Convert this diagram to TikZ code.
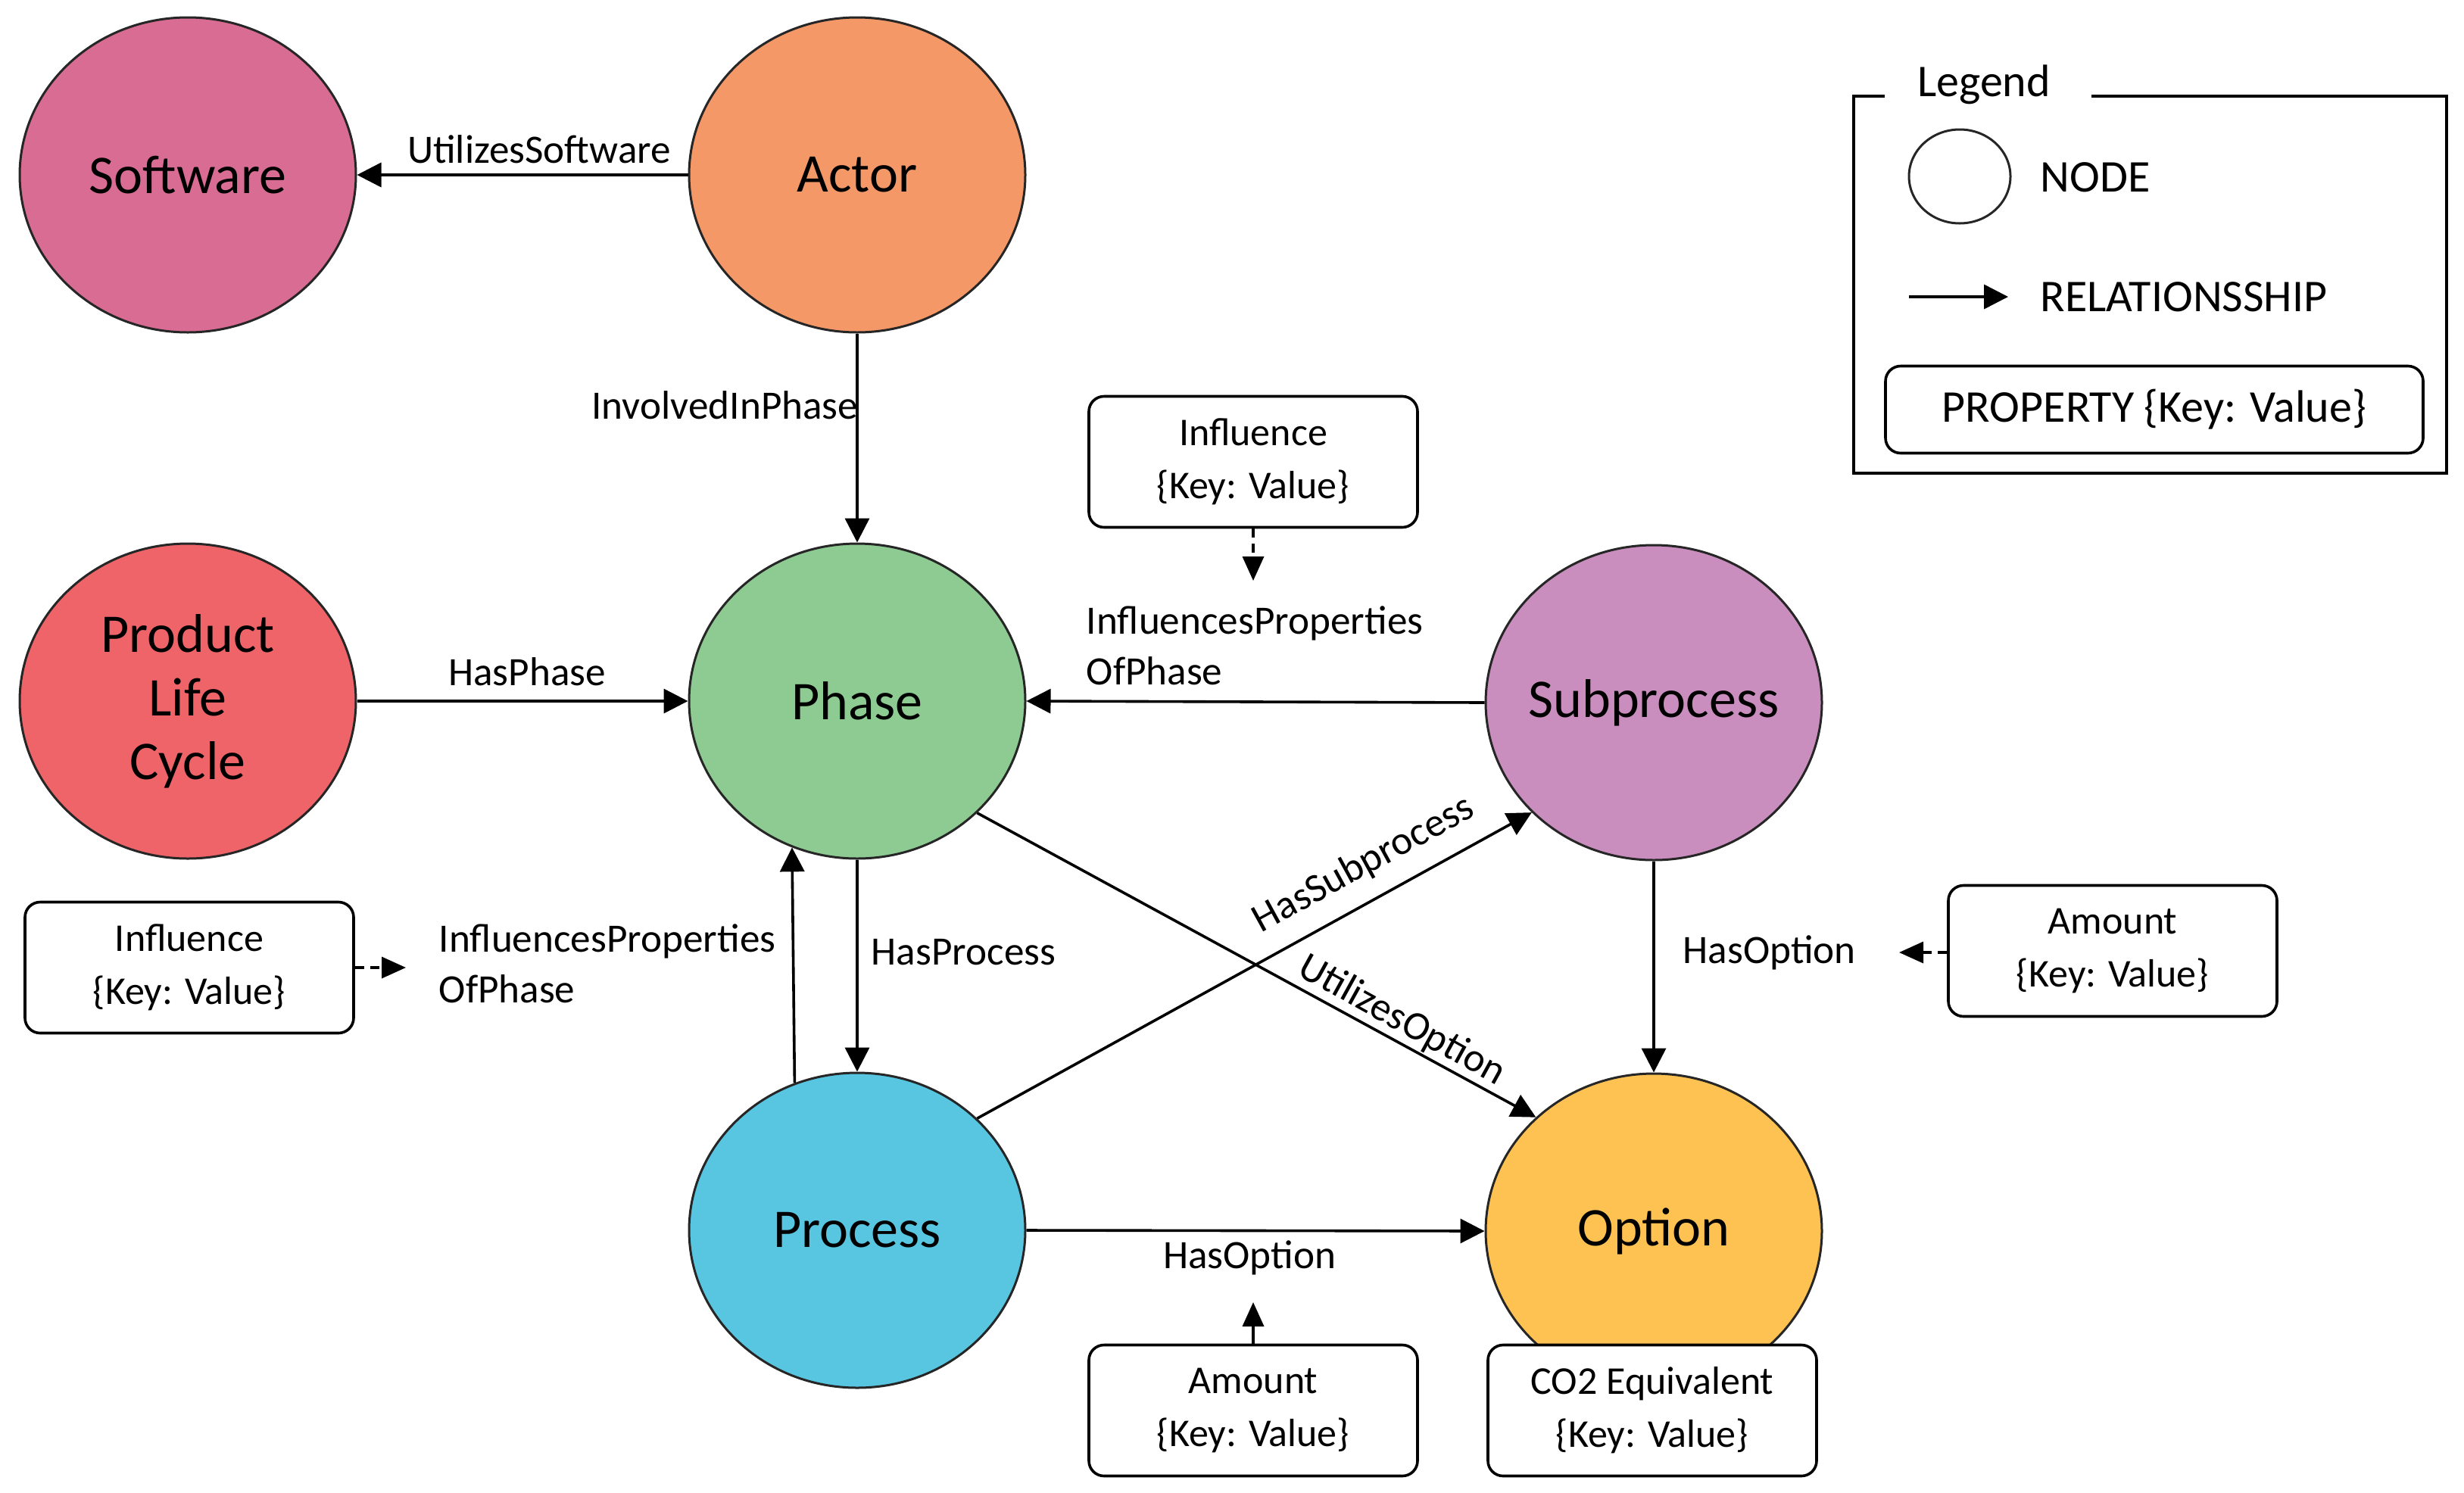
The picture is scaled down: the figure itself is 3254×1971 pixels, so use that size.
\documentclass[tikz,border=0pt]{standalone}
\usepackage{fontspec}
\setmainfont{Carlito}
\usetikzlibrary{shapes.geometric,arrows.meta}
\definecolor{cSoft}{RGB}{216,108,146}
\definecolor{cActor}{RGB}{245,152,104}
\definecolor{cPLC}{RGB}{238,100,104}
\definecolor{cPhase}{RGB}{141,203,146}
\definecolor{cSub}{RGB}{201,142,190}
\definecolor{cProc}{RGB}{88,197,225}
\definecolor{cOpt}{RGB}{254,194,82}
\begin{document}
\begin{tikzpicture}[x=0.25pt,y=-0.25pt,
  ent/.style={ellipse,draw=black!85,line width=0.75pt,minimum width=111pt,minimum height=104pt,inner sep=-20pt,font=\fontsize{18}{21}\selectfont,align=center},
  rel/.style={line width=0.9pt,-{Triangle[length=8pt,width=8pt]}},
  lbl/.style={font=\fontsize{13.3}{16.75}\selectfont,inner sep=0pt,align=left},
  prop/.style={draw,rounded corners=5pt,line width=0.9pt,fill=white,font=\fontsize{13}{17.5}\selectfont,align=center,inner sep=0pt,minimum width=108.5pt,minimum height=43.25pt},
  inf/.style={line width=0.9pt,dash pattern=on 3pt off 2pt,-{Triangle[length=8pt,width=7pt]}},
  lgd/.style={font=\fontsize{15}{18}\selectfont,inner sep=0pt}]
\useasboundingbox (0,0) rectangle (3254,1971);

% entities
\node[ent,fill=cSoft]  (soft)  at (248,231)   {Software};
\node[ent,fill=cActor] (actor) at (1132,231)  {Actor};
\node[ent,fill=cPLC]   (plc)   at (248,926)   {Product\\Life\\Cycle};
\node[ent,fill=cPhase] (phase) at (1132,926)  {Phase};
\node[ent,fill=cSub]   (sub)   at (2184,928)  {Subprocess};
\node[ent,fill=cProc]  (proc)  at (1132,1625) {Process};
\node[ent,fill=cOpt]   (opt)   at (2184,1626) {Option};

% property boxes
\node[prop] (inftop)  at (1655,610)  {Influence\\\{Key: Value\}};
\node[prop] (infleft) at (250,1278)  {Influence\\\{Key: Value\}};
\node[prop] (amtbot)  at (1655,1863) {Amount\\\{Key: Value\}};
\node[prop] (co2)     at (2182,1863) {CO2 Equivalent\\\{Key: Value\}};
\node[prop] (amtright) at (2790,1256) {Amount\\\{Key: Value\}};

% relationships
\draw[rel] (actor.west) -- (soft.east);
\draw[rel] (actor.south) -- (phase.north);
\draw[rel] (plc.east) -- (phase.west);
\draw[rel] (sub.west) -- (phase.east);
\draw[rel] (phase.south) -- (proc.north);
\draw[rel] (proc.113.6) -- (phase.246.4);
\draw[rel] (proc.east) -- (opt.west);
\draw[rel] (sub.south) -- (opt.north);
\draw[rel] (phase.-43) -- (opt.136.3);
\draw[rel] (proc.43.5) -- (sub.222);

% property arrows
\coordinate (tTop) at (1655,767);
\coordinate (tLeft) at (536,1278);
\coordinate (tRight) at (2508,1258);
\coordinate (tBot) at (1655,1720);
\draw[inf] (inftop.south) -- (tTop);
\draw[inf] (infleft.east) -- (tLeft);
\draw[inf] (amtright.west |- tRight) -- (tRight);
\draw[rel,-{Triangle[length=8pt,width=7pt]}] (amtbot.north) -- (tBot);

% labels
\node[lbl] (lUS) at (712,197) {UtilizesSoftware};
\node[lbl,anchor=east] (lIIP) at (1134,535) {InvolvedInPhase};
\node[lbl] (lHP) at (696,887) {HasPhase};
\node[lbl,anchor=west] (lIPtop) at (1434,853) {InfluencesProperties\\OfPhase};
\node[lbl,anchor=west] (lIPleft) at (579,1273) {InfluencesProperties\\OfPhase};
\node[lbl,anchor=west] (lHPr) at (1150,1258) {HasProcess};
\node[lbl,anchor=west] (lHOr) at (2222,1258) {HasOption};
\node[lbl,rotate=28.7] (lHS) at (1801,1142) {HasSubprocess};
\node[lbl,rotate=-28.9] (lUO) at (1851,1348) {UtilizesOption};
\node[lbl] (lHOb) at (1650,1661) {HasOption};

% legend
\draw[line width=1pt] (2489,127) -- (2448,127) -- (2448,625) -- (3231,625) -- (3231,127) -- (2762,127);
\node[lgd] (lgtitle) at (2620,112) {Legend};
\node[ellipse,draw=black!85,line width=0.75pt,minimum width=33.5pt,minimum height=31pt,inner sep=0pt] (lgnode) at (2588,233) {};
\node[lgd,anchor=west] (lgnodet) at (2694,234) {NODE};
\coordinate (lgA) at (2521,392);
\coordinate (lgB) at (2652,392);
\draw[rel] (lgA) -- (lgB);
\node[lgd,anchor=west] (lgrelt) at (2694,392) {RELATIONSSHIP};
\node[prop,lgd,minimum width=177.5pt,minimum height=28.75pt] (lgprop) at (2845,541) {PROPERTY \{Key: Value\}};
\end{tikzpicture}
\end{document}
